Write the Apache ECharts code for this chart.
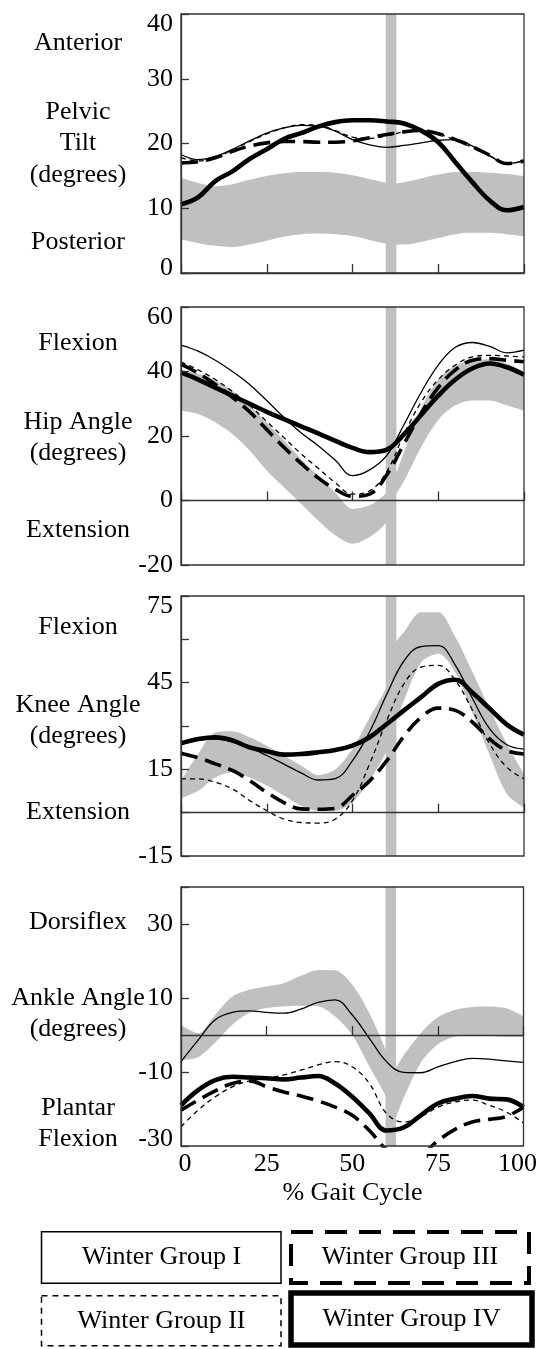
<!DOCTYPE html>
<html><head><meta charset="utf-8">
<script src="https://cdn.jsdelivr.net/npm/echarts@6/dist/echarts.min.js"></script>
<style>html,body{margin:0;padding:0;background:#fff}#c{width:540px;height:1349px}</style>
</head><body><div id="c"></div>
<script>
// ---- data ----
const gaitPct = [0,5,10,15,20,25,30,35,40,45,50,55,60,65,70,75,80,85,90,95,100];
const normPct = [0,5,10,15,20,25,30,35,40,45,50,55,60,62,65,70,75,80,85,90,95,100];
const toeOff = [59.7, 62.8];
const xTicks = [0,25,50,75,100];
const groupNames = ['Winter Group I','Winter Group II','Winter Group III','Winter Group IV'];

// Pelvic tilt
const pelvicTicks = [0,10,20,30,40];
const pelvicG1 = [18.3,17.5,18.0,19.1,20.4,21.6,22.4,22.8,22.7,21.9,20.6,19.8,19.4,19.7,20.1,20.5,20.6,19.6,18.1,16.9,17.4];
const pelvicG2 = [17.8,17.3,17.8,19.0,20.3,21.5,22.4,22.9,22.8,22.0,21.0,20.8,21.2,21.8,22.0,21.5,20.5,19.4,18.1,16.9,17.3];
const pelvicG3 = [17.0,17.2,17.8,18.8,19.6,20.1,20.3,20.3,20.2,20.2,20.4,20.9,21.4,21.8,22.0,21.5,20.6,19.5,18.2,16.9,17.3];
const pelvicG4 = [10.6,11.7,14.2,15.7,17.6,19.1,20.7,21.6,22.6,23.3,23.6,23.6,23.4,23.1,22.0,20.2,17.1,14.0,11.2,9.7,10.2];
const pelvicNormUp = [14.7,13.9,13.4,13.7,14.4,15.0,15.4,15.6,15.6,15.5,15.1,14.5,13.9,13.8,14.0,14.6,15.2,15.6,15.6,15.5,15.3,15.0];
const pelvicNormLo = [5.2,4.6,4.2,4.0,4.4,5.0,5.6,6.0,6.1,6.0,5.7,5.1,4.5,4.4,4.4,4.8,5.4,6.0,6.2,6.2,6.0,5.7];

// Hip angle
const hipTicks = [-20,0,20,40,60];
const hipG1 = [48.2,46.3,43.5,40.0,36.0,31.0,25.8,21.0,17.0,12.5,7.7,9.5,14.0,23.5,33.5,42.0,47.5,49.0,47.8,45.8,46.6];
const hipG2 = [43.0,40.5,37.5,33.8,29.5,24.5,19.5,14.5,10.0,5.5,2.0,3.0,9.0,20.5,30.5,37.5,42.0,44.5,45.0,44.8,44.5];
const hipG3 = [42.3,39.5,36.0,32.0,27.5,22.0,16.5,11.5,7.0,3.5,1.3,2.0,8.0,17.5,27.0,35.0,40.5,43.5,44.0,43.5,43.0];
const hipG4 = [39.7,37.5,35.0,32.5,30.0,27.5,25.2,23.0,20.8,18.5,16.3,15.0,15.8,20.5,26.5,32.5,37.5,41.0,42.5,41.3,39.0];
const hipNormUp = [40.2,39.4,37.1,34.0,29.4,24.2,18.6,12.9,7.7,2.5,-2.6,-1.5,2.5,6.5,15.0,28.5,37.5,41.8,43.3,43.8,42.5,39.7];
const hipNormLo = [27.8,26.8,24.2,20.6,15.5,9.3,4.1,-1.0,-6.2,-10.8,-13.4,-11.3,-6.5,0.5,6.0,16.5,25.0,29.5,31.0,31.0,29.5,27.8];

// Knee angle
const kneeTicks = [-15,15,45,75];
const kneeG1 = [23.5,25.0,25.5,24.5,22.5,19.8,16.8,13.8,11.3,11.8,18.0,28.0,41.0,52.5,57.5,57.8,51.0,39.5,29.0,23.5,22.0];
const kneeG2 = [11.7,11.7,10.5,8.2,4.2,0.7,-2.2,-3.4,-3.6,-2.2,4.2,16.9,31.9,44.6,50.4,51.0,45.7,35.4,23.8,15.7,11.7];
const kneeG3 = [20.6,19.0,16.9,14.6,11.1,7.0,3.5,1.3,1.2,1.5,6.0,11.0,18.0,26.5,33.0,36.2,35.4,31.3,25.5,21.5,20.3];
const kneeG4 = [24.0,25.5,26.1,25.0,22.6,21.3,20.1,20.3,20.9,21.7,23.2,26.1,30.7,35.4,40.0,44.6,46.0,41.5,36.0,30.5,27.0];
const kneeNormUp = [11.1,20.3,27.8,28.2,26.1,23.2,19.8,16.3,13.0,15.0,22.0,33.0,44.0,57.5,62.5,69.4,69.4,60.8,48.6,35.9,23.8,13.4];
const kneeNormLo = [5.0,7.6,12.2,14.0,12.2,9.4,5.9,2.4,0.7,0.7,3.6,11.1,21.5,29.0,38.8,52.0,55.0,48.5,34.5,20.0,6.5,1.8];

// Ankle angle
const ankleTicks = [-30,-10,10,30];
const ankleG1 = [-7.2,-1.4,4.1,6.1,6.5,6.1,5.9,7.0,8.8,9.5,5.4,-0.9,-7.2,-10.1,-10.2,-8.6,-7.2,-6.3,-6.5,-7.0,-7.4];
const ankleG2 = [-24.8,-20.3,-16.7,-14.0,-12.4,-11.7,-10.8,-9.5,-8.1,-7.2,-8.6,-13.1,-21.2,-23.5,-22.1,-19.5,-18.1,-17.6,-19.0,-20.8,-23.8];
const ankleG3 = [-20.3,-17.6,-15.1,-13.1,-12.4,-14.0,-15.4,-16.5,-17.8,-19.5,-21.7,-25.8,-31.0,-34.0,-32.5,-28.6,-25.5,-23.5,-22.8,-22.0,-19.5];
const ankleG4 = [-19.0,-14.9,-12.2,-11.3,-11.5,-11.7,-12.0,-11.5,-11.1,-13.1,-16.7,-21.2,-25.8,-25.0,-21.7,-18.5,-17.2,-16.5,-17.2,-17.4,-19.5];
const ankleNormUp = [2.7,0.5,5.5,10.4,12.2,13.1,14.0,16.0,17.6,17.5,13.6,5.9,-4.5,-9.5,-5.5,0.5,4.8,6.8,7.6,7.7,7.2,5.0];
const ankleNormLo = [-6.8,-6.0,-2.0,2.8,6.0,7.3,7.7,7.9,7.8,5.0,0.0,-8.5,-17.0,-23.0,-17.0,-7.5,-2.5,-0.5,0.0,-0.2,-0.5,-0.5];

// ---- chart ----
const FONT = '"Liberation Serif", "Times New Roman", serif';
const FS = 26;
const AX = '#333';
const BAND = '#c0c0c0';

const panels = [
  {min:0, max:40, interval:10, ticks:pelvicTicks, g:[pelvicG1,pelvicG2,pelvicG3,pelvicG4], up:pelvicNormUp, lo:pelvicNormLo, zero:false, minShift:5, grid:{top:14,height:259}},
  {min:-20, max:60, interval:20, ticks:hipTicks, g:[hipG1,hipG2,hipG3,hipG4], up:hipNormUp, lo:hipNormLo, zero:true, minShift:0, grid:{top:307,height:258}},
  {min:-15, max:75, interval:15, ticks:kneeTicks, g:[kneeG1,kneeG2,kneeG3,kneeG4], up:kneeNormUp, lo:kneeNormLo, zero:true, minShift:0, grid:{top:596,height:260}},
  {min:-30, max:40, interval:20, ticks:ankleTicks, g:[ankleG1,ankleG2,ankleG3,ankleG4], up:ankleNormUp, lo:ankleNormLo, zero:true, minShift:7, grid:{top:887,height:259}}
];

const lineStyles = [
  {width:1.3, type:'solid'},
  {width:1.3, type:[5,4]},
  {width:3.6, type:[17,8]},
  {width:4.6, type:'solid'}
];

const grids = [], xAxes = [], yAxes = [], series = [];
panels.forEach((p, i) => {
  grids.push({left:181, right:16, top:p.grid.top, height:p.grid.height, show:true, z:10,
    borderColor:AX, borderWidth:1.3, backgroundColor:'rgba(0,0,0,0)'});
  const last = i === panels.length - 1;
  xAxes.push({
    type:'value', gridIndex:i, min:0, max:100, interval:25, z:10,
    axisLine:{show:true, lineStyle:{color:AX, width:1.3}},
    axisTick:{show:true, inside:true, length:9, lineStyle:{color:AX, width:1.3}},
    splitLine:{show:false},
    axisLabel: last ? {
      show:true, margin:5, fontFamily:FONT, fontSize:FS, color:'#000',
      formatter: v => {
        if (!xTicks.includes(v)) return '';
        if (v === 0) return '{l|0}';
        if (v === 100) return '{r|100}';
        return String(v);
      },
      rich:{
        l:{fontFamily:FONT, fontSize:FS, color:'#000', padding:[0,0,0,8]},
        r:{fontFamily:FONT, fontSize:FS, color:'#000', padding:[0,12,0,0]}
      }
    } : {show:false}
  });
  yAxes.push({
    type:'value', gridIndex:i, min:p.min, max:p.max, interval:p.interval, z:10,
    axisLine:{show:true, lineStyle:{color:AX, width:1.3}},
    axisTick:{show:true, inside:true, length:8, lineStyle:{color:AX, width:1.3}},
    splitLine:{show:false},
    axisLabel:{
      margin:8, fontFamily:FONT, fontSize:FS, color:'#000',
      formatter: v => {
        if (!p.ticks.includes(v)) return '';
        if (v === p.max) return '{t|' + v + '}';
        if (v === p.min && p.minShift) return '{b|' + v + '}';
        return String(v);
      },
      rich:{
        t:{fontFamily:FONT, fontSize:FS, color:'#000', padding:[20,0,0,0]},
        b:{fontFamily:FONT, fontSize:FS, color:'#000', padding:[0,0,p.minShift*2,0]}
      }
    }
  });
  // normal band: gray fill under upper edge, white fill under lower edge
  series.push({
    type:'line', xAxisIndex:i, yAxisIndex:i,
    data: normPct.map((x, k) => [x, p.up[k]]),
    symbol:'none', smooth:0.3, silent:true, z:1,
    lineStyle:{width:0, opacity:0},
    areaStyle:{color:BAND, opacity:1, origin:'start'}
  });
  series.push({
    type:'line', xAxisIndex:i, yAxisIndex:i,
    data: normPct.map((x, k) => [x, p.lo[k]]),
    symbol:'none', smooth:0.3, silent:true, z:2,
    lineStyle:{width:0, opacity:0},
    areaStyle:{color:'#ffffff', opacity:1, origin:'start'}
  });
  // toe-off band
  series.push({
    type:'custom', xAxisIndex:i, yAxisIndex:i, z:3, silent:true, clip:true,
    encode:{x:[0,1]},
    data:[[toeOff[0], toeOff[1]]],
    renderItem:(params, api) => {
      const a = api.coord([api.value(0), p.max]);
      const b = api.coord([api.value(1), p.min]);
      return {type:'rect', shape:{x:a[0], y:a[1], width:b[0]-a[0], height:b[1]-a[1]}, style:{fill:BAND}};
    }
  });
  p.g.forEach((arr, gi) => {
    const s = {
      type:'line', name:groupNames[gi], xAxisIndex:i, yAxisIndex:i,
      data: gaitPct.map((x, k) => [x, arr[k]]),
      symbol:'none', smooth:0.4, silent:true, z:4 + gi, clip:true,
      lineStyle:Object.assign({color:'#000', cap:'butt', join:'round'}, lineStyles[gi])
    };
    if (gi === 0 && p.zero) {
      s.markLine = {silent:true, symbol:['none','none'], label:{show:false},
        lineStyle:{color:'#222', width:1.2, type:'solid'}, data:[{yAxis:0}]};
    }
    series.push(s);
  });
});

// side labels (annotation text)
const sideLabels = [
  ['Anterior',43],['Pelvic',112],['Tilt',143],['(degrees)',175],['Posterior',242],
  ['Flexion',343],['Hip Angle',422],['(degrees)',453],['Extension',530],
  ['Flexion',627],['Knee Angle',705],['(degrees)',736],['Extension',812],
  ['Dorsiflex',922],['Ankle Angle',998],['(degrees)',1029],['Plantar',1108],['Flexion',1139]
];
const textStyle = t => ({text:t, fontFamily:FONT, fontSize:FS, fill:'#000',
  textAlign:'center', textVerticalAlign:'middle', align:'center', verticalAlign:'middle'});
const graphic = sideLabels.map(([t, y]) => ({type:'text', x:78, y:y, silent:true, style:textStyle(t)}));
graphic.push({type:'text', x:352.5, y:1193, silent:true, style:textStyle('% Gait Cycle')});

// legend boxes
const legendBoxes = [
  {shape:{x:41.5, y:1231.8, width:239.5, height:51.5}, lw:1.5, dash:null, cx:161.5, cy:1257.5},
  {shape:{x:41.5, y:1295.8, width:239.5, height:50}, lw:1.5, dash:[6,5], cx:161.5, cy:1321},
  {shape:{x:291, y:1232, width:238, height:51}, lw:4, dash:[22,12], cx:410, cy:1257.5},
  {shape:{x:291, y:1293, width:241, height:52}, lw:5.5, dash:null, cx:411.5, cy:1319.5}
];
legendBoxes.forEach((b, i) => {
  graphic.push({type:'rect', silent:true, shape:b.shape,
    style:{fill:'#fff', stroke:'#000', lineWidth:b.lw, lineDash:b.dash || null}});
  graphic.push({type:'text', x:b.cx, y:b.cy, silent:true, style:textStyle(groupNames[i])});
});

const chart = echarts.init(document.getElementById('c'), null, {renderer:'canvas'});
chart.setOption({
  animation:false,
  backgroundColor:'#fff',
  grid:grids, xAxis:xAxes, yAxis:yAxes, series:series, graphic:graphic
});
</script>
</body></html>
